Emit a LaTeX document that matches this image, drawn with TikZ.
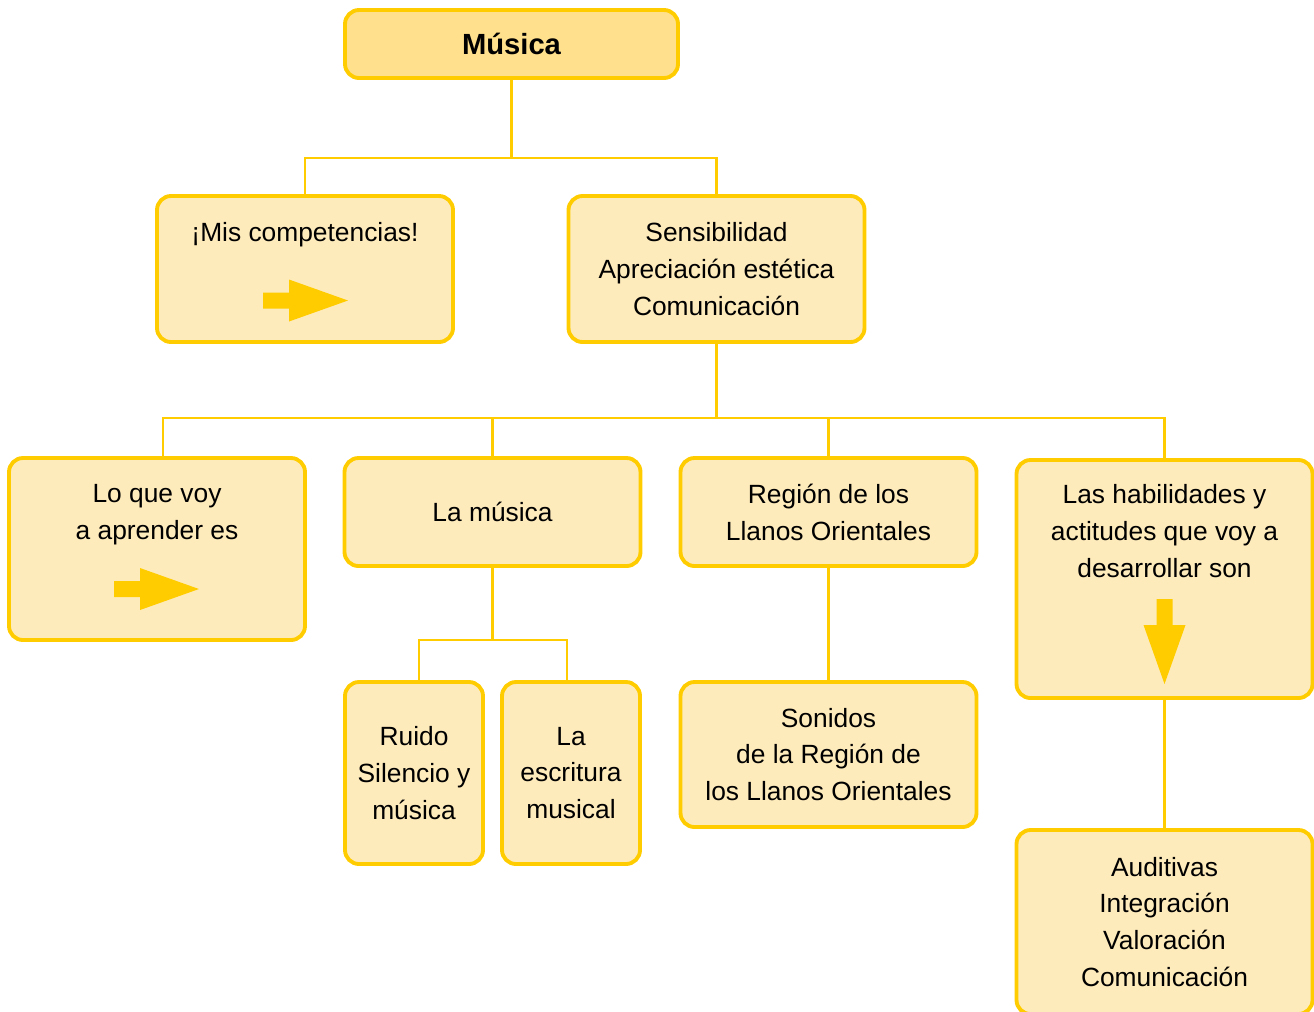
\documentclass[tikz,border=0pt]{standalone}
\usepackage{fontspec}
\setmainfont{Liberation Sans}
\usepackage{tikz}
\usetikzlibrary{positioning}
\definecolor{mapline}{RGB}{255,204,0}
\definecolor{mapfill}{RGB}{254,235,188}
\definecolor{mapfilltop}{RGB}{255,224,140}
\tikzset{
    bigarrow/.pic = {
    \fill[mapline] (0,-0.16) -- (0.52,-0.16) -- (0.52,-0.42) -- (1.7,0) -- (0.52,0.42) -- (0.52,0.16) -- (0,0.16) -- cycle;
    },
    box/.style={draw=mapline, fill=mapfill, line width=2.2pt, rounded corners=0.28cm, align=center, outer sep=0pt, inner sep=2pt, minimum width=5.92cm, font=\fontsize{15}{21}\selectfont},
    topbox/.style={box, fill=mapfilltop, minimum width=6.66cm, minimum height=1.36cm, font=\fontsize{16.6}{20}\selectfont\bfseries},
    narrowbox/.style={box, minimum width=2.76cm, minimum height=3.64cm},
    txt/.style={align=center, inner sep=0pt, font=\fontsize{15}{21}\selectfont},
    link/.style={draw=mapline, line width=1.4pt},
}
\begin{document}
\begin{tikzpicture}
    \useasboundingbox (0,0) rectangle (26.28,-20.22);

    \node[topbox] (musica) at (10.23,-0.88) {Música};
    \node[box, minimum height=2.92cm, below=2.36cm of musica, xshift=-4.13cm] (comp) {};
    \node[box, minimum height=2.92cm, below=2.36cm of musica, xshift=4.1cm] (sens) {Sensibilidad\\Apreciación estética\\Comunicación};

    \node[box, minimum height=3.64cm, below=2.32cm of sens, xshift=-11.19cm] (loque) {};
    \node[box, minimum height=2.16cm, below=2.32cm of sens, xshift=-4.48cm] (lamus) {La música};
    \node[box, minimum height=2.16cm, below=2.32cm of sens, xshift=2.24cm] (region) {Región de los\\Llanos Orientales};
    \node[box, minimum height=4.76cm, below=2.36cm of sens, xshift=8.96cm] (habil) {};

    \node[narrowbox, below=2.32cm of lamus, xshift=-1.57cm] (ruido) {Ruido\\Silencio y\\música};
    \node[narrowbox, below=2.32cm of lamus, xshift=1.57cm] (escrit) {La\\escritura\\musical};
    \node[box, minimum height=2.9cm, below=2.32cm of region] (sonidos) {Sonidos\\de la Región de\\los Llanos Orientales};
    \node[box, minimum height=3.68cm, below=2.64cm of habil] (audit) {Auditivas\\Integración\\Valoración\\Comunicación};

    % texts and arrows inside the boxes
    \node[txt] (comptxt) at ([yshift=-0.78cm]comp.north) {¡Mis competencias!};
    \pic at ([xshift=-0.84cm, yshift=-0.63cm]comp.center) {bigarrow};
    \node[txt] (loquetxt) at ([yshift=-1.13cm]loque.north) {Lo que voy\\a aprender es};
    \pic at ([xshift=-0.86cm, yshift=-0.80cm]loque.center) {bigarrow};
    \node[txt] (habiltxt) at ([yshift=-1.42cm]habil.north) {Las habilidades y\\actitudes que voy a\\desarrollar son};
    \pic[rotate=-90] at ([yshift=-0.40cm]habil.center) {bigarrow};

    % links
    \coordinate[below=1.6cm of musica] (jtop);
    \coordinate[below=1.52cm of sens] (jmid);
    \coordinate[below=1.48cm of lamus] (jlow);

    \draw[link] (musica.south) -- (jtop) -| (comp.north);
    \draw[link] (jtop) -| (sens.north);
    \draw[link] (sens.south) -- (jmid);
    \draw[link] (jmid) -| ([xshift=0.12cm]loque.north);
    \foreach \n in {lamus, region, habil}
      \draw[link] (jmid) -| (\n.north);
    \draw[link] (lamus.south) -- (jlow);
    \draw[link] (jlow) -| ([xshift=0.1cm]ruido.north);
    \draw[link] (jlow) -| ([xshift=-0.08cm]escrit.north);
    \draw[link] (region.south) -- (sonidos.north);
    \draw[link] (habil.south) -- (audit.north);

\end{tikzpicture}
\end{document}
